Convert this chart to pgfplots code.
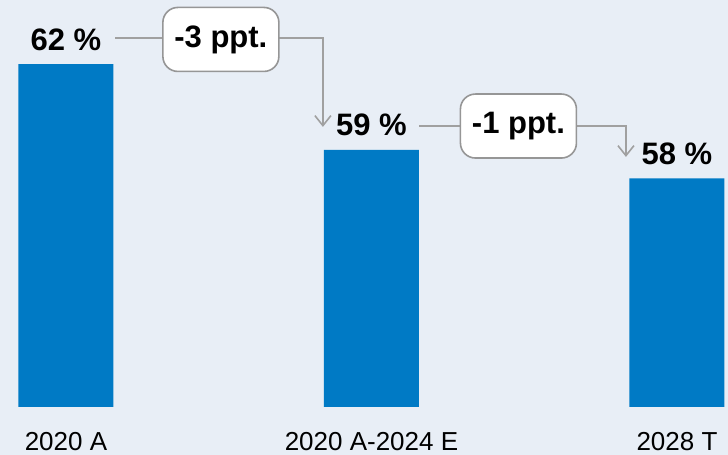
\documentclass[border=0pt]{standalone}
\usepackage{pgfplots}
\pgfplotsset{compat=1.18}
\usepackage{fontspec}
\setmainfont{Liberation Sans}
\usetikzlibrary{arrows.meta}
\definecolor{bg}{RGB}{232,238,246}
\definecolor{barblue}{RGB}{0,122,197}
\definecolor{linegray}{RGB}{160,160,160}
\definecolor{boxgray}{RGB}{150,150,150}
\begin{document}
\begin{tikzpicture}
\path[use as bounding box, fill=bg] (0,0) rectangle (364pt,227.5pt);
\begin{axis}[
	at={(0pt,24pt)}, anchor=south west,
	scale only axis,
	width=364pt, height=203.5pt,
	xmin=-0.216, xmax=2.167,
	ymin=50, ymax=64.24,
	axis line style={draw=none},
	xtick={0,1,2},
	xticklabels={2020 A, 2020 A-2024 E, 2028 T},
	ytick=\empty,
	major tick length=0pt,
	xticklabel style={font=\fontsize{13}{15}\selectfont, anchor=base, yshift=-22pt},
	/pgf/number format/assume math mode=true,
	ybar,
	bar width=0.311,
	bar shift=0pt,
	nodes near coords={\pgfmathprintnumber{\pgfplotspointmeta}~\%},
	every node near coord/.append style={font=\fontsize{15.5}{18}\selectfont\bfseries, anchor=base, yshift=7pt},
]
\addplot[fill=barblue, draw=none] coordinates {(0,62) (1,59) (2,58)};

% change callouts
\draw[linegray, line width=0.8pt, -{Straight Barb[length=5pt,width=8pt]}] (0.161,62.91) -| (0.841,59.80);
\node[draw=boxgray, fill=white, rounded corners=7.5pt, line width=0.8pt,
	minimum width=58pt, minimum height=32pt,
	font=\fontsize{15.5}{18}\selectfont\bfseries] at (0.507,62.86) {-3 ppt.};
\draw[linegray, line width=0.8pt, -{Straight Barb[length=5pt,width=8pt]}] (1.156,59.83) -| (1.833,58.75);
\node[draw=boxgray, fill=white, rounded corners=7.5pt, line width=0.8pt,
	minimum width=58pt, minimum height=32pt,
	font=\fontsize{15.5}{18}\selectfont\bfseries] at (1.481,59.83) {-1 ppt.};
\end{axis}
\end{tikzpicture}
\end{document}
